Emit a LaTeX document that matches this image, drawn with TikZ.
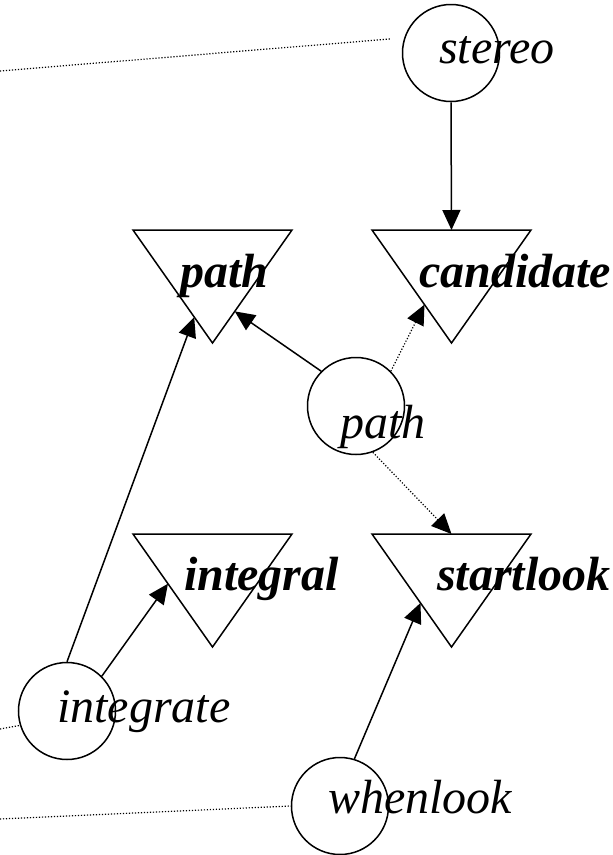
\documentclass[tikz,border=0pt]{standalone}
\usepackage{fontspec}
\setmainfont{Liberation Serif}
\usetikzlibrary{calc,arrows.meta}
\def\tri(#1)(#2,#3){%
	\coordinate (#1-l) at (#2,#3);
	\coordinate (#1-r) at ({#2+159},#3);
	\coordinate (#1-t) at ({#2+79.5},#3);
	\coordinate (#1-b) at ({#2+79.5},{#3+113});
	\draw[line width=1.5pt] (#1-l) -- (#1-r) -- (#1-b) -- cycle;}

\begin{document}
\begin{tikzpicture}[x=1pt, y=-1pt,
	proc/.style={draw, circle, line width=1.5pt, minimum size=97pt, inner sep=0pt},
	procname/.style={anchor=base west, inner sep=0pt, font=\fontsize{48}{50}\selectfont\itshape},
	varname/.style={anchor=base west, inner sep=0pt, font=\fontsize{48}{50}\selectfont\bfseries\itshape},
	flow/.style={line width=1.5pt, -{Triangle[length=20pt, width=18pt]}},
	dataflow/.style={flow, line width=1.2pt, dash pattern=on 1.2pt off 1.8pt},
	inflow/.style={line width=1.2pt, dash pattern=on 1.2pt off 1.8pt}]
			%%%%% START %%%%%
			\useasboundingbox (0,0) rectangle (613,855);
			
			% variables
			\tri(ptri)(133,230);
			\tri(ctri)(372,230);
			\tri(itri)(133,534);
			\tri(stri)(372,534);
			\node[varname] (ptri-lbl) at (180,287) {path};
			\node[varname] (ctri-lbl) at (419,287) {candidate};
			\node[varname] (itri-lbl) at (184,590) {integral};
			\node[varname] (stri-lbl) at (437,590) {startlook};
			
			% processes
			\node[proc] (stereo) at (451,53) {};
			\node[proc] (pathc) at (356,406) {};
			\node[proc] (integrate) at (67,711) {};
			\node[proc] (whenlook) at (340,806) {};
			\node[procname] (stereo-lbl) at (439,63) {stereo};
			\node[procname] (pathc-lbl) at (340,438) {path};
			\node[procname] (integrate-lbl) at (57,722) {integrate};
			\node[procname] (whenlook-lbl) at (328,813) {whenlook};
			
			% inputs from the left
			\coordinate (in-stereo) at (0,71);
			\coordinate (in-integrate) at (0,729);
			\coordinate (in-whenlook) at (0,819);
			\draw[inflow, shorten >=13pt] (in-stereo) -- (stereo.162);
			\draw[inflow] (in-integrate) -- (integrate.197);
			\draw[inflow] (in-whenlook) -- (whenlook.west);
			
			% writes
			\draw[flow] (stereo.south) -- (ctri-t);
			\draw[flow] (pathc.135) -- ($(ptri-r)!0.72!(ptri-b)$);
			\draw[dataflow] (pathc.45) -- ($(ctri-l)!0.66!(ctri-b)$);
			\draw[dataflow] (pathc.-70) -- (stri-t);
			\draw[flow] (integrate.north) -- ($(ptri-l)!0.77!(ptri-b)$);
			\draw[flow] (integrate.45) -- ($(itri-l)!0.44!(itri-b)$);
			\draw[flow] (whenlook.73) -- ($(stri-l)!0.61!(stri-b)$);
			%%%%% END %%%%%
\end{tikzpicture}
\end{document}
